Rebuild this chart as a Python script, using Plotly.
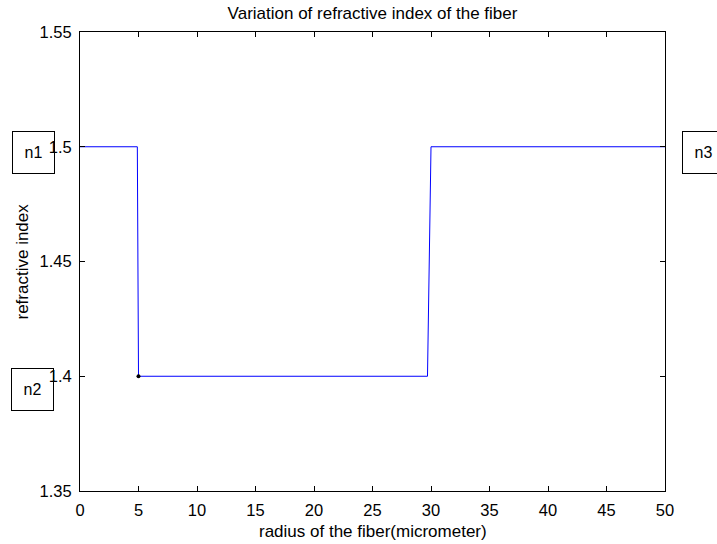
import plotly.graph_objects as go

# data
radius = [0, 4.9, 5, 29.7, 30, 50]
n_index = [1.5, 1.5, 1.4, 1.4, 1.5, 1.5]
dot_x = [5]
dot_y = [1.4]
x_ticks = [0, 5, 10, 15, 20, 25, 30, 35, 40, 45, 50]
y_ticks = [1.35, 1.4, 1.45, 1.5, 1.55]
y_tick_labels = ["1.35", "1.4", "1.45", "1.5", "1.55"]
labels = ["n1", "n2", "n3"]
x_title = "radius of the fiber(micrometer)"
y_title = "refractive index"
chart_title = "Variation of refractive index of the fiber"

FONT = "Arial, Liberation Sans, sans-serif"
TXT = dict(family=FONT, size=17, color="black")
TICK = dict(family=FONT, size=16.5, color="black")
BOX = dict(family=FONT, size=16, color="black")

fig = go.Figure()
fig.add_trace(go.Scatter(x=radius, y=n_index, mode="lines",
                         line=dict(color="#0000ff", width=1), hoverinfo="skip"))
fig.add_trace(go.Scatter(x=dot_x, y=dot_y, mode="markers",
                         marker=dict(color="black", size=4), hoverinfo="skip"))

W, H = 717, 544
L, R, T, B = 80, 52, 32, 53
pw, ph = W - L - R, H - T - B

def px(x):
    return (x - L) / pw

def py(y):
    return (H - B - y) / ph

box_pos = [(33.5, 152.5), (32.5, 389), (703.5, 152)]
for lab, (bx, by) in zip(labels, box_pos):
    fig.add_annotation(text=lab, x=px(bx), y=py(by), xref="paper", yref="paper",
                       showarrow=False, width=39, height=39,
                       bordercolor="black", borderwidth=1, bgcolor="rgba(0,0,0,0)",
                       font=BOX, xanchor="center", yanchor="middle")

# axis titles placed at measured positions
fig.add_annotation(text=x_title, x=0.5, y=py(531), xref="paper", yref="paper",
                   showarrow=False, font=TXT, xanchor="center", yanchor="middle")
fig.add_annotation(text=y_title, x=px(22), y=0.5, xref="paper", yref="paper",
                   showarrow=False, font=TXT, textangle=-90,
                   xanchor="center", yanchor="middle")

axis_common = dict(showgrid=False, zeroline=False, showline=True, linecolor="black",
                   linewidth=1, mirror="ticks", ticks="inside", ticklen=5,
                   tickcolor="black", tickfont=TICK, automargin=False)

fig.update_layout(
    width=W, height=H,
    margin=dict(l=L, r=R, t=T, b=B, pad=0),
    paper_bgcolor="white", plot_bgcolor="white",
    showlegend=False,
    title=dict(text=chart_title, x=(L + pw / 2) / W,
               xanchor="center", y=1 - 13 / H, yanchor="middle", font=TXT),
    xaxis=dict(range=[0, 50], tickvals=x_ticks, ticklabelstandoff=4, **axis_common),
    yaxis=dict(range=[1.35, 1.55], tickvals=y_ticks, ticktext=y_tick_labels,
               ticklabelstandoff=4, **axis_common),
)

fig.write_html("out.html")
